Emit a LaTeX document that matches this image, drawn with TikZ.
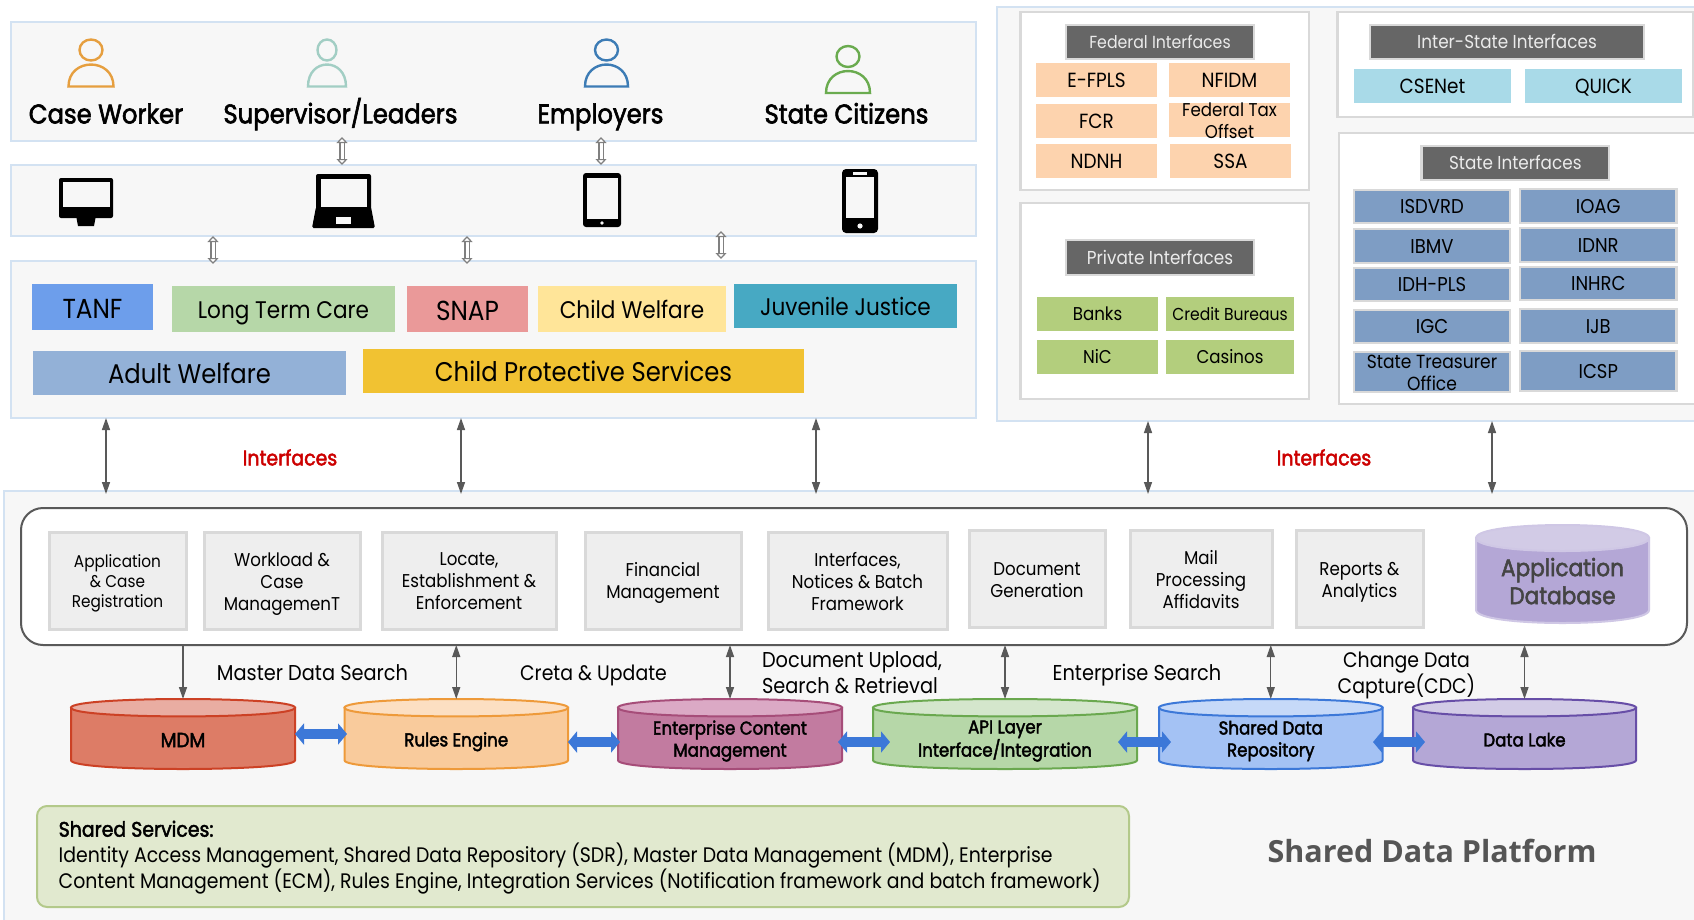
\documentclass[tikz,border=0pt]{standalone}
\usepackage{fontspec}
\setmainfont{Poppins}
\newfontfamily\qf[FakeStretch=0.9]{Poppins}
\newfontfamily\qb[FakeStretch=0.9,FakeBold=2.2]{Poppins}
\newfontfamily\opb{Open Sans}
\usetikzlibrary{arrows.meta}
\definecolor{panelfill}{HTML}{F7F7F7}
\definecolor{panelline}{HTML}{D3E2F2}
\definecolor{boxline}{HTML}{D9D9D9}
\definecolor{headfill}{HTML}{666666}
\definecolor{cellblue}{HTML}{7E9DC4}
\definecolor{cellpeach}{HTML}{FDD3AE}
\definecolor{cellcyan}{HTML}{A9DAE8}
\definecolor{cellgreen}{HTML}{B3CE7D}
\definecolor{modfill}{HTML}{EEEEEE}
\definecolor{connector}{HTML}{595959}
\definecolor{blueflow}{HTML}{3C78D8}
\definecolor{redtext}{HTML}{CC0000}
\definecolor{pA}{HTML}{E69F3F}
\definecolor{pB}{HTML}{A2CEC4}
\definecolor{pC}{HTML}{3D7CB5}
\definecolor{pD}{HTML}{6AAB4F}
\definecolor{tanfc}{HTML}{6D9EEB}
\definecolor{ltcc}{HTML}{B6D7A8}
\definecolor{snapc}{HTML}{EA9999}
\definecolor{cwc}{HTML}{FFE599}
\definecolor{jjc}{HTML}{47A9C3}
\definecolor{awc}{HTML}{93B1D7}
\definecolor{cpsc}{HTML}{F1C232}
\definecolor{mdmb}{HTML}{DD7C66}\definecolor{mdmt}{HTML}{E9ADA2}\definecolor{mdml}{HTML}{CC4125}
\definecolor{rulb}{HTML}{F9CB9C}\definecolor{rult}{HTML}{FCDFC2}\definecolor{rull}{HTML}{EE9A3A}
\definecolor{ecmb}{HTML}{C27BA0}\definecolor{ecmt}{HTML}{DBA9C5}\definecolor{ecml}{HTML}{A64D79}
\definecolor{apib}{HTML}{B6D7A8}\definecolor{apit}{HTML}{D4E6CC}\definecolor{apil}{HTML}{6AA84F}
\definecolor{sdrb}{HTML}{A4C2F4}\definecolor{sdrt}{HTML}{C6D9F8}\definecolor{sdrl}{HTML}{3C78D8}
\definecolor{lakeb}{HTML}{B4A7D6}\definecolor{laket}{HTML}{D2CBE6}\definecolor{lakel}{HTML}{674EA7}
\definecolor{appl}{HTML}{CFC7E5}
\definecolor{ssfill}{HTML}{E1E9CF}
\definecolor{ssline}{HTML}{B3C98A}
\definecolor{platt}{HTML}{555555}
\definecolor{appt}{HTML}{444444}
\tikzset{
  x=1pt,y=-1pt,
  every node/.style={inner sep=0pt,outer sep=0pt,rectangle,text=black,
     execute at begin node={\vrule height .95em depth 0pt width 0pt\relax},
     execute at end node={\vrule height 0pt depth .25em width 0pt\relax}},
  lowered/.style={execute at begin node={\vrule height #1em depth 0pt width 0pt\relax}},
  qfont/.style 2 args={font=\qf\fontsize{#1}{#2}\selectfont,align=center},
  qbold/.style 2 args={font=\qb\fontsize{#1}{#2}\selectfont,align=center},
  panel/.style={draw=panelline,fill=panelfill,line width=2.5pt},
  whitebox/.style={draw=boxline,fill=white,line width=2.5pt},
  headbox/.style={draw=boxline,fill=headfill,line width=2.5pt,text=white!92!black,qfont={18.7}{22}},
  peach/.style={fill=cellpeach,qfont={20.5}{22}},
  cyancell/.style={fill=cellcyan,qfont={20.5}{22}},
  greencell/.style={fill=cellgreen,qfont={18.5}{22}},
  bluecell/.style={fill=cellblue,draw=boxline,line width=2.5pt,qfont={20}{22}},
  modbox/.style={fill=modfill,draw=boxline,line width=3pt},
  tag/.style={fill=#1,qfont={24}{28},lowered=1.06},
  link/.style={draw=connector,line width=1.4pt},
  dbl/.style={link,{Triangle[length=12pt,width=8pt]}-{Triangle[length=12pt,width=8pt]}},
  single/.style={link,-{Triangle[length=12pt,width=8pt]}},
  hollow/.style={draw=gray,line width=1.2pt,double=white,double distance=3pt,
     {Triangle[open,length=6pt,width=11pt,fill=white]}-{Triangle[open,length=6pt,width=11pt,fill=white]}},
  flow/.style={draw=blueflow,line width=9.5pt,{Triangle[length=9pt,width=21pt]}-{Triangle[length=9pt,width=21pt]}},
  lbl/.style={qfont={21.5}{26}},
  cyltext/.style={qbold={18.5}{22}},
}
% name x0 y0 x1 y1 style text
\newcommand\bx[7]{\node[#6,minimum width={(#4-#2)*1pt},minimum height={(#5-#3)*1pt}] (#1) at ({(#2+#4)/2},{(#3+#5)/2}) {#7};}
% module box: name x0 y0 x1 y1 label-style text
\newcommand\mb[7]{\node[modbox,minimum width={(#4-#2)*1pt},minimum height={(#5-#3)*1pt},label={[#6]center:{#7}}] (#1) at ({(#2+#4)/2},{(#3+#5)/2}) {};}
% person: cx top rx w colour
\newcommand\person[5]{%
  \draw[#5,line width=2.4pt] (#1,#2+10.5) ellipse [x radius=#3*1pt,y radius=10.5pt];
  \draw[#5,line width=2.4pt] (#1-#4,#2+47) .. controls (#1-#4,#2+17.7) and (#1+#4,#2+17.7) .. (#1+#4,#2+47) -- cycle;}
% cylinder: name x0 y0 x1 y1 ry body top line | line-width yshift textstyle text
\newcommand\cyl[9]{%
  \def\cylname{#1}\def\cxa{#2}\def\cya{#3}\def\cxb{#4}\def\cyb{#5}\def\cry{#6}\def\cbody{#7}\def\ctop{#8}\def\cline{#9}\cylrest}
\newcommand\cylrest[4]{%
  \draw[fill=\cbody,draw=\cline,line width=#1] (\cxa,\cya+\cry) -- (\cxa,\cyb-\cry)
     .. controls (\cxa,\cyb+\cry/3) and (\cxb,\cyb+\cry/3) .. (\cxb,\cyb-\cry) -- (\cxb,\cya+\cry) -- cycle;
  \draw[fill=\ctop,draw=\cline,line width=#1] (\cxa,\cya+\cry)
     .. controls (\cxa,\cya-\cry/3) and (\cxb,\cya-\cry/3) .. (\cxb,\cya+\cry)
     .. controls (\cxb,\cya+\cry*2+\cry/3) and (\cxa,\cya+\cry*2+\cry/3) .. (\cxa,\cya+\cry) -- cycle;
  \node[minimum width={(\cxb-\cxa)*1pt},minimum height={(\cyb-\cya)*1pt},
        label={[#3,yshift=#2]center:{#4}}] (\cylname) at ({(\cxa+\cxb)/2},{(\cya+\cyb)/2}) {};}
\begin{document}
\begin{tikzpicture}
\path[use as bounding box] (0,0) rectangle (1694,919);
\clip (0,0) rectangle (1694,919);
% ---- panels
\bx{pusers}{11}{22}{976}{141}{panel}{}
\bx{pdevices}{11}{165}{976}{236}{panel}{}
\bx{pprograms}{11}{261}{976}{418}{panel}{}
\bx{pext}{997}{7}{1720}{421}{panel}{}
\bx{plat}{4}{491}{1720}{950}{panel}{}
% persons
\person{91}{39.5}{11.5}{22.5}{pA}
\person{327}{39.5}{9.5}{19}{pB}
\person{606.5}{39.5}{11.5}{21.5}{pC}
\person{848}{46}{11.5}{22}{pD}
\node[qbold={27}{28}] (lcase) at (106,114) {Case Worker};
\node[qbold={27}{28}] (lsup) at (340.5,114) {Supervisor/Leaders};
\node[qbold={27}{28}] (lemp) at (600.5,114) {Employers};
\node[qbold={27}{28}] (lcit) at (846.5,114) {State Citizens};
% devices
\fill[black,rounded corners=2pt] (59,178) rectangle (113,218);
\fill[black] (76.5,218) -- (95.5,218) -- (94,226) -- (78,226) -- cycle;
\fill[panelfill] (62.5,182) rectangle (110,207);
\fill[black,rounded corners=2pt] (316,174) rectangle (371,210);
\fill[black,rounded corners=1.5pt] (316,207) -- (371,207) -- (375,228) -- (312,228) -- cycle;
\fill[panelfill] (321,179) rectangle (367,207);
\fill[panelfill] (336,217) rectangle (351,224);
\fill[black,rounded corners=3pt] (583,173) rectangle (621,227);
\fill[panelfill] (587,178) rectangle (618,219);
\fill[panelfill] (602,223) circle (1.8pt);
\fill[black,rounded corners=4pt] (842,169) rectangle (878,233);
\fill[panelfill] (846,177) rectangle (874,218);
\fill[panelfill] (853,172) rectangle (867,174.5);
\fill[panelfill] (860,226) circle (2.6pt);
% hollow arrows
\coordinate (ha) at (342,0);\coordinate (hb) at (601,0);
\coordinate (hc) at (213,0);\coordinate (hd) at (467,0);
\coordinate (he1) at (721,231);\coordinate (he2) at (721,259);
\draw[hollow] (ha |- pusers.south) ++(0,-4) -- (ha |- pdevices.north);
\draw[hollow] (hb |- pusers.south) ++(0,-4) -- (hb |- pdevices.north);
\draw[hollow] (hc |- pdevices.south) -- ([yshift=-3pt]hc |- pprograms.north);
\draw[hollow] (hd |- pdevices.south) -- ([yshift=-3pt]hd |- pprograms.north);
\draw[hollow] (he1) -- (he2);
% programs
\bx{tanf}{32}{284}{153}{330}{tag=tanfc,qfont={27.5}{30},lowered=.97}{TANF}
\bx{ltc}{172}{286}{395}{332}{tag=ltcc}{Long Term Care}
\bx{snap}{407}{286}{528}{332}{tag=snapc,qfont={27.5}{30},lowered=.97}{SNAP}
\bx{cw}{538}{286}{726}{332}{tag=cwc}{Child Welfare}
\bx{jj}{734}{284}{957}{328}{tag=jjc}{Juvenile Justice}
\bx{aw}{33}{351}{346}{395}{tag=awc,qfont={27}{30},lowered=.95}{Adult Welfare}
\bx{cps}{363}{349}{804}{393}{tag=cpsc,qfont={27}{30}}{Child Protective Services}
% interfaces connectors
\coordinate (ia) at (106,0);\coordinate (ib) at (461,0);\coordinate (ic) at (816,0);
\coordinate (id) at (1148,0);\coordinate (ie) at (1492,0);
\draw[dbl] (ia |- pprograms.south) -- ([yshift=-3pt]ia |- plat.north);
\draw[dbl] (ib |- pprograms.south) -- ([yshift=-3pt]ib |- plat.north);
\draw[dbl] (ic |- pprograms.south) -- ([yshift=-3pt]ic |- plat.north);
\draw[dbl] (id |- pext.south) -- ([yshift=-3pt]id |- plat.north);
\draw[dbl] (ie |- pext.south) -- ([yshift=-3pt]ie |- plat.north);
\node[qbold={21}{24},text=redtext] (ifl) at (290,458) {Interfaces};
\node[qbold={21}{24},text=redtext] (ifr) at (1324,458) {Interfaces};
% external interfaces
\bx{fedbox}{1020.5}{12}{1309}{190}{whitebox}{}
\bx{privbox}{1020.5}{203}{1309}{399}{whitebox}{}
\bx{interbox}{1337.5}{12}{1693}{117}{whitebox}{}
\bx{statebox}{1339}{133}{1720}{404}{whitebox}{}
\bx{hfed}{1066}{25}{1254}{59}{headbox,qfont={17.5}{22}}{Federal Interfaces}
\bx{efpls}{1036}{63}{1157}{97}{peach}{E-FPLS}
\bx{nfidm}{1169}{63}{1290}{97}{peach}{NFIDM}
\bx{fcr}{1036}{104}{1157}{138}{peach}{FCR}
\node[fill=cellpeach,minimum width=121pt,minimum height=34pt,label={[qfont={18.5}{22},yshift=-3pt]center:{Federal Tax\\Offset}}] (fto) at (1229.5,120) {};
\bx{ndnh}{1036}{144}{1157}{178}{peach}{NDNH}
\bx{ssa}{1170}{144}{1291}{178}{peach}{SSA}
\bx{hpriv}{1066}{240}{1254}{275}{headbox}{Private Interfaces}
\bx{banks}{1037}{297}{1158}{331}{greencell}{Banks}
\bx{credit}{1166}{297}{1294}{331}{greencell,qfont={17.3}{20}}{Credit Bureaus}
\bx{nic}{1037}{340}{1158}{374}{greencell}{NiC}
\bx{casinos}{1166}{340}{1294}{374}{greencell}{Casinos}
\bx{hinter}{1370}{25}{1644}{59}{headbox}{Inter-State Interfaces}
\bx{csenet}{1354}{69}{1511}{103}{cyancell}{CSENet}
\bx{quick}{1525}{69}{1682}{103}{cyancell}{QUICK}
\bx{hstate}{1421.5}{146}{1609}{180}{headbox}{State Interfaces}
\bx{isdvrd}{1354}{190}{1510}{223}{bluecell}{ISDVRD}
\bx{ibmv}{1354}{229}{1510}{263}{bluecell}{IBMV}
\bx{idhpls}{1354}{268}{1510}{301}{bluecell}{IDH-PLS}
\bx{igc}{1354}{310}{1510}{343}{bluecell}{IGC}
\node[fill=cellblue,draw=boxline,line width=2.5pt,minimum width=156pt,minimum height=40pt,label={[qfont={19}{22},yshift=-3pt]center:{State Treasurer\\Office}}] (sto) at (1432,372) {};
\bx{ioag}{1520}{189}{1676.5}{223}{bluecell}{IOAG}
\bx{idnr}{1520}{228}{1676.5}{262}{bluecell}{IDNR}
\bx{inhrc}{1520}{267}{1676.5}{300}{bluecell}{INHRC}
\bx{ijb}{1520}{309}{1676.5}{343}{bluecell}{IJB}
\bx{icsp}{1520}{351}{1676.5}{391}{bluecell}{ICSP}
% platform core
\node[draw=connector,fill=white,line width=2pt,rounded corners=22pt,minimum width=1666pt,minimum height=137pt] (core) at (854,576.5) {};
\mb{mapp}{49}{532}{186}{629}{qfont={17}{20},yshift=-3.2pt}{Application\\\& Case\\Registration}
\mb{mwork}{204}{532}{360}{629}{qfont={18.5}{22},yshift=-3.2pt}{Workload \&\\Case\\ManagemenT}
\mb{mloc}{382}{532}{556}{629}{qfont={18.5}{22},yshift=-3.2pt}{Locate,\\Establishment \&\\Enforcement}
\mb{mfin}{585}{532}{741}{629}{qfont={18.5}{22},yshift=-2.5pt}{Financial\\Management}
\mb{mint}{768}{532}{947}{629}{qfont={18.5}{22},yshift=-3.2pt}{Interfaces,\\Notices \& Batch\\Framework}
\mb{mdoc}{969}{530}{1105}{627}{qfont={18.5}{22},yshift=-4pt}{Document\\Generation}
\mb{mmail}{1130}{530}{1272}{627}{qfont={18.5}{22},yshift=-3.5pt}{Mail\\Processing\\Affidavits}
\mb{mrep}{1296}{530}{1423}{627}{qfont={18.5}{22},yshift=-4pt}{Reports \&\\Analytics}
\cyl{appdb}{1476}{525}{1649}{623}{13}{lakeb}{laket}{appl}{2pt}{-10pt}{qbold={24}{28},text=appt}{Application\\Database}
% stores
\cyl{mdm}{71}{699}{295}{769}{8.7}{mdmb}{mdmt}{mdml}{2pt}{-6pt}{cyltext,qbold={20.5}{22}}{MDM}
\cyl{rules}{344.5}{699}{568}{769}{8.7}{rulb}{rult}{rull}{2pt}{-6pt}{cyltext}{Rules Engine}
\cyl{ecm}{618}{699}{842}{769}{8.7}{ecmb}{ecmt}{ecml}{2pt}{-7pt}{cyltext}{Enterprise Content\\Management}
\cyl{api}{873}{699}{1137}{769}{8.7}{apib}{apit}{apil}{2pt}{-7pt}{cyltext}{API Layer\\Interface/Integration}
\cyl{sdr}{1159}{699}{1382.5}{769}{8.7}{sdrb}{sdrt}{sdrl}{2pt}{-7pt}{cyltext}{Shared Data\\Repository}
\cyl{lake}{1413}{699}{1636}{769}{8.7}{lakeb}{laket}{lakel}{2pt}{-6pt}{cyltext}{Data Lake}
\draw[single] (core.south -| mdm.north) -- (mdm.north);
\draw[dbl] (core.south -| rules.north) -- (rules.north);
\draw[dbl] (core.south -| ecm.north) -- (ecm.north);
\draw[dbl] (core.south -| api.north) -- (api.north);
\draw[dbl] (core.south -| sdr.north) -- (sdr.north);
\draw[dbl] (core.south -| lake.north) -- (lake.north);
% blue flows
\coordinate (fa1) at (295,734);\coordinate (fa2) at (347,734);
\coordinate (fb1) at (568,742);\coordinate (fb2) at (620,742);
\coordinate (fc1) at (838,742);\coordinate (fc2) at (890,742);
\coordinate (fd1) at (1118,742);\coordinate (fd2) at (1171,742);
\coordinate (fe1) at (1373,742);\coordinate (fe2) at (1425,742);
\draw[flow] (fa1) -- (fa2);
\draw[flow] (fb1) -- (fb2);
\draw[flow] (fc1) -- (fc2);
\draw[flow] (fd1) -- (fd2);
\draw[flow] (fe1) -- (fe2);
% labels
\node[lbl] (lmds) at (312.5,673) {Master Data Search};
\node[lbl,qfont={21}{26}] (lcu) at (593.5,673) {Creta \& Update};
\node[lbl,align=left,anchor=west] (ldoc) at (762,675) {Document Upload,\\Search \& Retrieval};
\node[lbl] (les) at (1137,673) {Enterprise Search};
\node[lbl,qfont={21}{26}] (lcdc) at (1406.5,675) {Change Data\\Capture(CDC)};
% shared services
\node[fill=ssfill,draw=ssline,line width=2pt,rounded corners=10pt,minimum width=1092pt,minimum height=101pt] (ss) at (583,856.5) {};
\node[anchor=west,align=left,font=\qf\fontsize{21}{26}\selectfont] (sstext) at (58.7,857.5) {{\qb Shared Services:}\\Identity Access Management, Shared Data Repository (SDR), Master Data Management (MDM), Enterprise\\Content Management (ECM), Rules Engine, Integration Services (Notification framework and batch framework)};
\node[font=\opb\bfseries\fontsize{30.5}{36}\selectfont,text=platt] (sdp) at (1432,852) {Shared Data Platform};
\end{tikzpicture}
\end{document}
